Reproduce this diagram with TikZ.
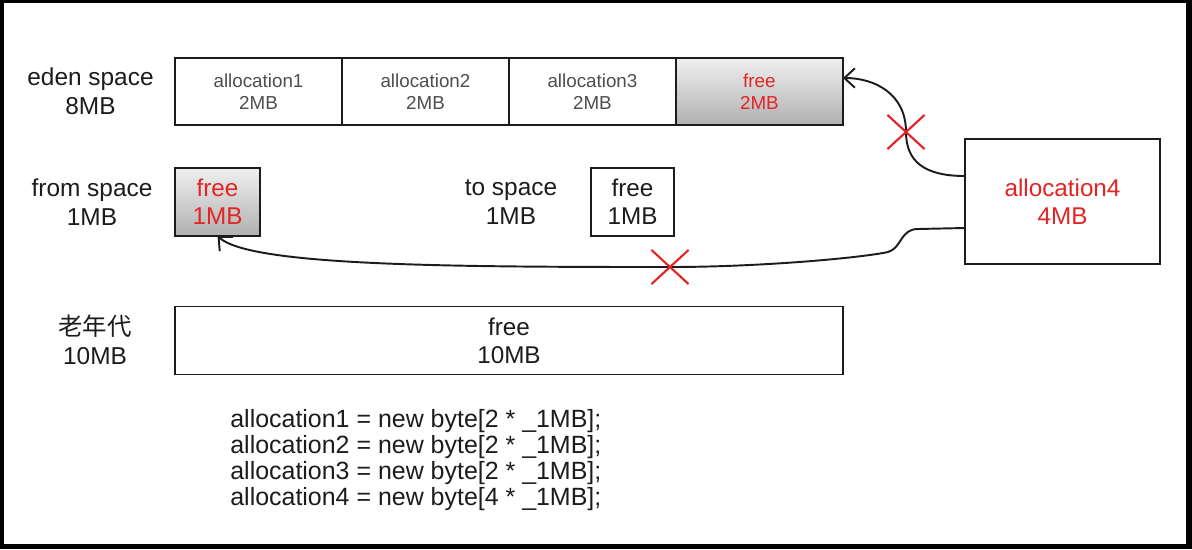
\documentclass[tikz,border=0pt]{standalone}
\usepackage{fontspec}
\setmainfont{Liberation Sans}
\newfontfamily\cjk{Noto Sans CJK SC}
\usetikzlibrary{arrows.meta, positioning, shapes.misc}
\definecolor{memred}{RGB}{228,36,36}
\definecolor{memgray}{RGB}{78,78,78}
\definecolor{memink}{RGB}{28,28,28}

\begin{document}
\begin{tikzpicture}[x=0.02cm, y=-0.02cm,
		cell/.style={rectangle,draw=memink,line width=1.1pt,outer sep=0pt,inner sep=0pt,
		minimum width=3.34cm,minimum height=1.34cm,align=center,text=memgray,
		font=\fontsize{10.7}{12.7}\selectfont},
		bigbox/.style={rectangle,draw=memink,line width=1.1pt,outer sep=0pt,inner sep=0pt,
		minimum width=1.7cm,minimum height=1.36cm,align=center,text=memink,
		font=\fontsize{13.8}{15.9}\selectfont},
		spacename/.style={inner sep=0pt,align=center,text=memink,font=\fontsize{13.9}{16.3}\selectfont},
		usedfree/.style={top color=gray!12,bottom color=gray!62},
		xmark/.style={cross out,draw=memred,line width=1.2pt,minimum width=0.7cm,minimum height=0.64cm,inner sep=0pt},
		link/.style={draw=memink,line width=1.1pt,-{Straight Barb[length=6pt,width=11pt]}}
		]
		% frame
		\useasboundingbox (0,0) rectangle (1192,549);
		\fill[black] (0,0) rectangle (1192,549);
		\fill[white] (4,3) rectangle (1186,544);

		% eden space
		\node[spacename](L0) at (90.5,91.5){eden space\\8MB};
		\node[cell](E1) at (258.5,91.5){allocation1\\2MB};
		\node[cell, right = 0pt of E1](E2){allocation2\\2MB};
		\node[cell, right = 0pt of E2](E3){allocation3\\2MB};
		\node[cell, usedfree, text = memred, right = 0pt of E3](E4){free\\2MB};

		% survivor spaces
		\node[spacename](L1) at (92,202){from space\\1MB};
		\node[bigbox, usedfree, text = memred, below = 0.86cm of E1.south west, anchor = north west](F0){free\\1MB};
		\node[spacename](L2) at (511,202){to space\\1MB};
		\node[bigbox, minimum width = 1.66cm](T0) at (632.5,202){free\\1MB};

		% old generation
		\node[spacename](L3) at (95,340){{\cjk 老年代}\\10MB};
		\node[bigbox, minimum width = 13.36cm](O0) at (509,340.5){free\\10MB};

		% new object
		\node[bigbox, text = memred, minimum width = 3.9cm, minimum height = 2.5cm](A4) at (1062.5,201.5){allocation4\\4MB};

		\node[anchor = north west, inner sep = 0pt, align = left, text = memink,
		font = \fontsize{14.2}{14.74}\selectfont](C0) at (230,409){%
		allocation1 = new byte[2 * \_1MB];\\
		allocation2 = new byte[2 * \_1MB];\\
		allocation3 = new byte[2 * \_1MB];\\
		allocation4 = new byte[4 * \_1MB];};

		% failed moves
		\coordinate (P1) at (906,132);
		\draw[link] ([yshift = 0.51cm]A4.west) .. controls +(-40,0) and +(0,30) .. (P1)
		.. controls +(0,-38) and +(32,0) .. ([yshift = 0.27cm]E4.east);
		\node[xmark](X1) at (P1){};

		\coordinate (K1) at (918,229);
		\coordinate (K2) at (888,252);
		\coordinate (P2) at (670,267);
		\draw[link] ([yshift = -0.53cm]A4.west) -- (K1) .. controls (900,229) and (902,248) .. (K2)
		.. controls (860,258) and (760,267) .. (P2)
		.. controls (450,267) and (250,266) .. (F0.south);
		\node[xmark](X2) at (P2){};
	\end{tikzpicture}
\end{document}
